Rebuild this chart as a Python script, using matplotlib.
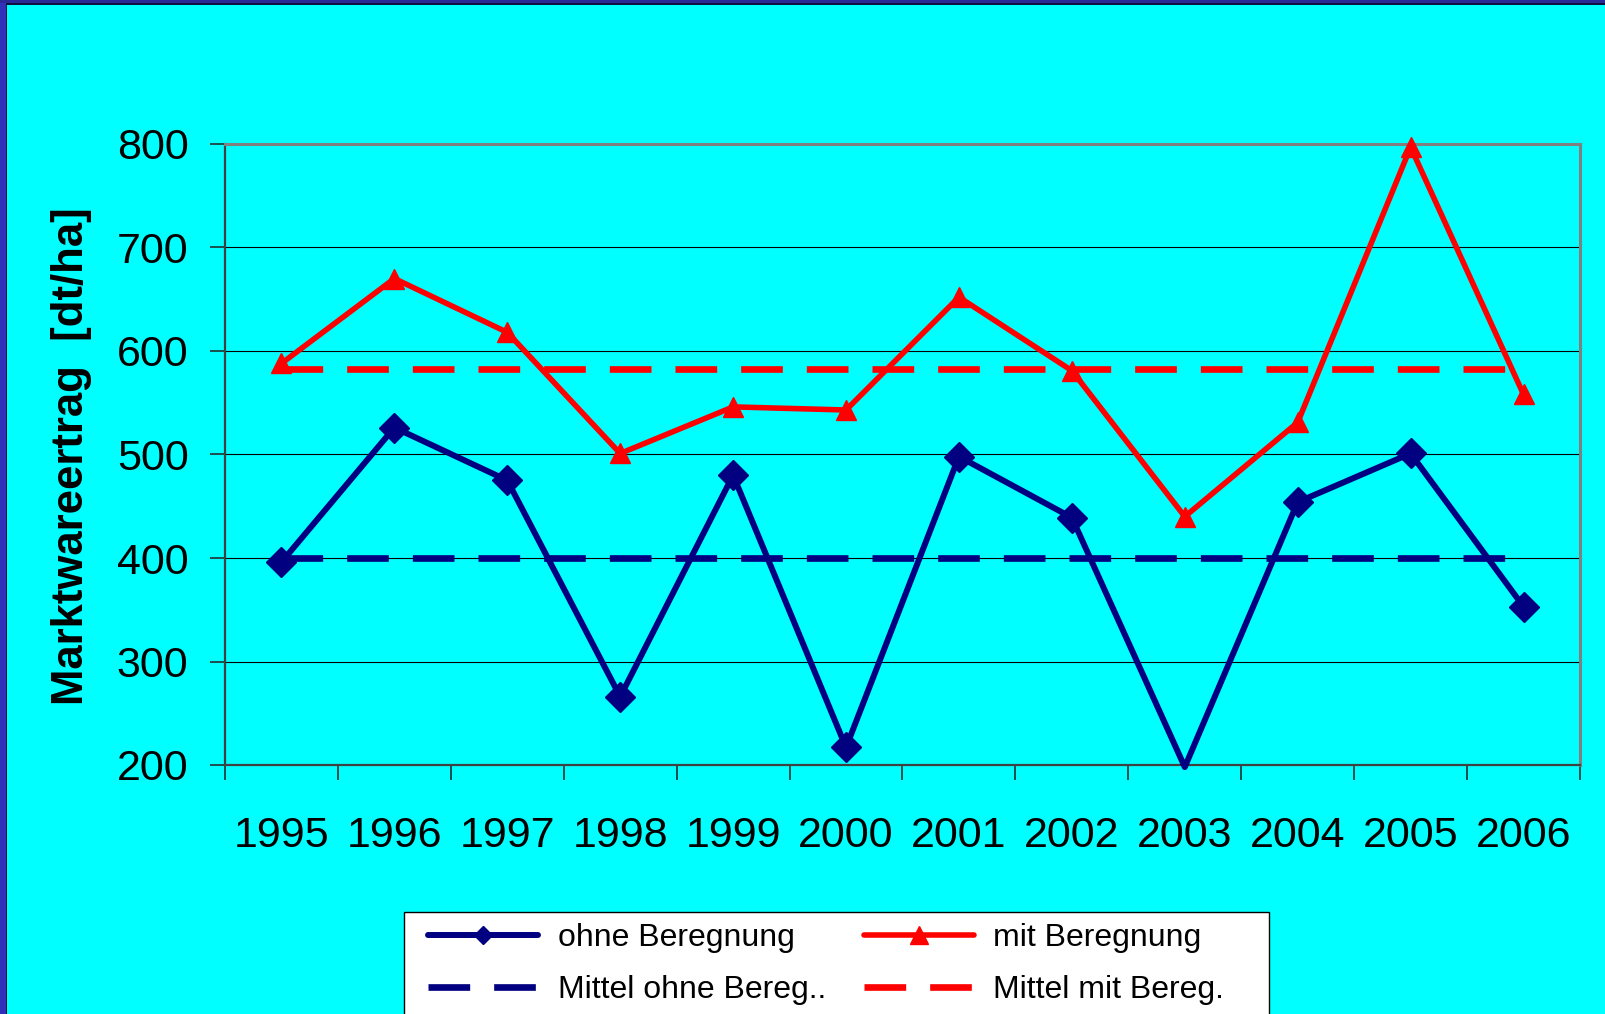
import matplotlib
matplotlib.use("Agg")
import matplotlib.pyplot as plt
from matplotlib.patches import Rectangle
import numpy as np

plt.rcParams["font.family"] = ["Liberation Sans", "DejaVu Sans"]

# ---- data ----
jahre = ["1995", "1996", "1997", "1998", "1999", "2000",
         "2001", "2002", "2003", "2004", "2005", "2006"]
ohne_beregnung = [396, 526, 475, 266, 480, 217, 498, 439, 198, 454, 501, 353]
mit_beregnung = [588, 670, 618, 501, 546, 543, 652, 581, 440, 531, 797, 558]
mittel_ohne = 400
mittel_mit = 583
y_ticks = [200, 300, 400, 500, 600, 700, 800]

NAVY = "#000080"
RED = "#FF0000"
CYAN = "#00FFFF"

W, H = 1606, 1014
fig = plt.figure(figsize=(W / 100, H / 100), dpi=100)
fig.patch.set_facecolor(CYAN)

# slide frame on the left and top edge
fig.patches.append(Rectangle((0, 0), 6 / W, 1, transform=fig.transFigure,
                             facecolor="#3030B8", edgecolor="none", zorder=0))
fig.patches.append(Rectangle((6 / W, 0), 1.5 / W, 1 - 3 / H, transform=fig.transFigure,
                             facecolor="#101040", edgecolor="none", zorder=0))
fig.patches.append(Rectangle((0, 1 - 3 / H), 1, 3 / H, transform=fig.transFigure,
                             facecolor="#2A2A96", edgecolor="none", zorder=0))
fig.patches.append(Rectangle((6 / W, 1 - 4.5 / H), 1, 1.5 / H, transform=fig.transFigure,
                             facecolor="#101040", edgecolor="none", zorder=0))

ax = fig.add_axes([225 / W, 1 - 765 / H, (1580 - 225) / W, (765 - 144) / H])
ax.set_facecolor(CYAN)

x = np.arange(len(jahre))
ymin, ymax = y_ticks[0], y_ticks[-1]

# markers only for points inside the value range
vis_ohne = [i for i, v in enumerate(ohne_beregnung) if ymin <= v <= ymax]
vis_mit = [i for i, v in enumerate(mit_beregnung) if ymin <= v <= ymax]

ax.plot(x, ohne_beregnung, color=NAVY, lw=4.3, marker="D", ms=15.5,
        markevery=vis_ohne, mec=NAVY, mew=1, solid_joinstyle="round",
        clip_on=False, zorder=3, label="ohne Beregnung")
ax.plot(x, mit_beregnung, color=RED, lw=4.0, marker="^", ms=15,
        markevery=vis_mit, mec=RED, mew=1, solid_joinstyle="round",
        clip_on=False, zorder=3, label="mit Beregnung")
ax.plot(x, [mittel_ohne] * len(x), color=NAVY, lw=4.8, dashes=(6.25, 3.6),
        dash_capstyle="butt", zorder=3, label="Mittel ohne Bereg..")
ax.plot(x, [mittel_mit] * len(x), color=RED, lw=4.8, dashes=(6.25, 3.6),
        dash_capstyle="butt", zorder=3, label="Mittel mit Bereg.")

ax.set_xlim(-0.5, len(jahre) - 0.5)
ax.set_ylim(ymin, ymax)

# y axis
ax.set_yticks(y_ticks)
ax.set_yticklabels([str(v) for v in y_ticks])
ax.tick_params(axis="y", direction="out", length=10.8, width=1.1, color="#202020",
               pad=15.5, labelsize=31)
for v in y_ticks[1:-1]:
    ax.axhline(v, color="black", lw=0.8, zorder=1)

# x axis: labels at category centres, tick marks between categories
ax.set_xticks(x)
ax.set_xticklabels(jahre)
ax.set_xticks(np.arange(-0.5, len(jahre)), minor=True)
ax.tick_params(axis="x", which="major", length=0, pad=36.5, labelsize=31)
ax.tick_params(axis="x", which="minor", direction="out", length=10.8, width=1.1,
               color="#202020")

for side in ("left", "bottom"):
    ax.spines[side].set_color("#404040")
    ax.spines[side].set_linewidth(1.6)
for side in ("top", "right"):
    ax.spines[side].set_color("#808080")
    ax.spines[side].set_linewidth(2.2)

fig.text(72 / W, 1 - 456 / H, "Marktwareertrag  [dt/ha]", rotation=90,
         ha="center", va="center", fontsize=31.5, fontweight="bold")

# legend box
fig.patches.append(Rectangle((404 / W, -0.05), (1269 - 404) / W, 1 - 911.5 / H + 0.05,
                             transform=fig.transFigure, facecolor="white",
                             edgecolor="black", lw=1.0, zorder=4))
handles, labels = ax.get_legend_handles_labels()
order = [0, 2, 1, 3]
leg = fig.legend([handles[i] for i in order], [labels[i] for i in order],
                 ncol=2, loc="upper left",
                 bbox_to_anchor=(417 / W, 1 - 911.5 / H),
                 frameon=False, fontsize=23, handlelength=3.44,
                 handletextpad=0.6, columnspacing=1.2, labelspacing=0.68,
                 borderpad=0.36, borderaxespad=0)
leg.set_zorder(5)
lh = leg.legend_handles
lh[0].set_markersize(8.7)
lh[2].set_markersize(13.5)
for h in (lh[0], lh[2]):
    h.set_solid_capstyle("round")

fig.savefig("out.png", dpi=100, facecolor=fig.get_facecolor())
